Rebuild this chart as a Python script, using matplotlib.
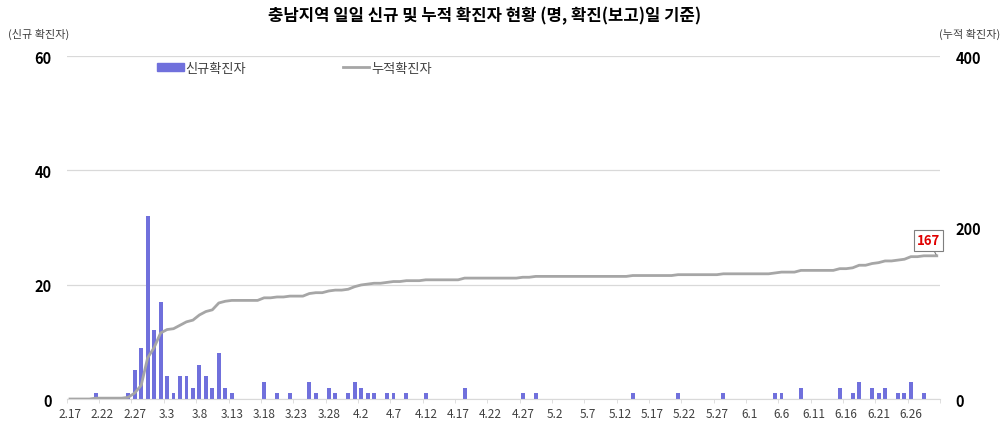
import numpy as np
import pandas as pd
import matplotlib
matplotlib.use('Agg')
from matplotlib import pyplot as plt

plt.rcParams['font.family'] = ['Noto Sans CJK KR', 'DejaVu Sans']

# daily categories 2020-02-17 .. 2020-06-30
dates = pd.date_range('2020-02-17', '2020-06-30', freq='D')
date_labels = ['%d.%d' % (d.month, d.day) for d in dates]

# days with new confirmed cases, everything else is 0
case_days = ['2.21', '2.26', '2.27', '2.28', '2.29', '3.1', '3.2', '3.3', '3.4', '3.5',
             '3.6', '3.7', '3.8', '3.9', '3.10', '3.11', '3.12', '3.13', '3.18', '3.20',
             '3.22', '3.25', '3.26', '3.28', '3.29', '3.31', '4.1', '4.2', '4.3', '4.4',
             '4.6', '4.7', '4.9', '4.12', '4.18', '4.27', '4.29', '5.14', '5.21', '5.28',
             '6.5', '6.6', '6.9', '6.15', '6.17', '6.18', '6.20', '6.21', '6.22', '6.24',
             '6.25', '6.26', '6.28']
case_counts = [1, 1, 5, 9, 32, 12, 17, 4, 1, 4,
               4, 2, 6, 4, 2, 8, 2, 1, 3, 1,
               1, 3, 1, 2, 1, 1, 3, 2, 1, 1,
               1, 1, 1, 1, 2, 1, 1, 1, 1, 1,
               1, 1, 2, 2, 1, 3, 2, 1, 2, 1,
               1, 3, 1]

daily = np.zeros(len(dates))
for d, c in zip(case_days, case_counts):
    daily[date_labels.index(d)] = c
cumulative = np.cumsum(daily)

bar_color = '#7070DC'
line_color = '#A6A6A6'
grid_color = '#D9D9D9'
text_color = '#404040'

fig = plt.figure(figsize=(10.03, 4.27), dpi=100)
ax = fig.add_axes([0.0666, 0.0632, 0.8706, 0.8033])
ax2 = ax.twinx()

x = np.arange(len(dates))
ax.bar(x, daily, width=0.6, color=bar_color, zorder=2)
ax2.plot(x, cumulative, color=line_color, linewidth=2.0, zorder=3)

ax.set_xlim(-0.5, len(dates) - 0.5)
ax.set_ylim(0, 60)
ax2.set_ylim(0, 400)
ax.set_yticks([0, 20, 40, 60])
ax2.set_yticks([0, 200, 400])

ax.yaxis.grid(True, color=grid_color, linewidth=0.9, zorder=0)
ax.set_axisbelow(True)
for a in (ax, ax2):
    for s in ('top', 'left', 'right'):
        a.spines[s].set_visible(False)
    a.spines['bottom'].set_color(grid_color)
ax2.spines['bottom'].set_visible(False)

ax.set_xticks(x[::5])
ax.set_xticklabels(date_labels[::5], fontsize=8.5, color=text_color)
ax.set_xticks(np.arange(-0.5, len(dates), 5), minor=True)
ax.tick_params(axis='x', which='major', length=0, pad=6)
ax.tick_params(axis='x', which='minor', length=3, color=grid_color)
ax.tick_params(axis='y', length=0, pad=11)
ax2.tick_params(axis='y', length=0, pad=11)
for t in ax.get_yticklabels() + ax2.get_yticklabels():
    t.set_fontweight('bold')
    t.set_fontsize(10.5)
    t.set_color('black')

fig.text(0.483, 0.962, '충남지역 일일 신규 및 누적 확진자 현황 (명, 확진(보고)일 기준)',
         ha='center', va='center', fontsize=12, fontweight='bold', color='black')
fig.text(0.008, 0.92, '(신규 확진자)', ha='left', va='center', fontsize=8, color=text_color)
fig.text(0.997, 0.92, '(누적 확진자)', ha='right', va='center', fontsize=8, color=text_color)

# legend
leg = ax.legend(handles=[plt.Rectangle((0, 0), 1, 1, color=bar_color),
                         plt.Line2D([0], [0], color=line_color, linewidth=2.0)],
                labels=['신규확진자', '누적확진자'], ncol=2, frameon=False,
                loc='center left', bbox_to_anchor=(0.09, 0.965),
                handlelength=2.0, handleheight=0.5, handletextpad=0.15,
                columnspacing=7.3, fontsize=9.5)
for t in leg.get_texts():
    t.set_color(text_color)

# data label for last cumulative value
ax2.annotate('%d' % cumulative[-1], xy=(x[-1], cumulative[-1]),
             xytext=(-6, 6), textcoords='offset points',
             ha='center', va='bottom', fontsize=9.5, fontweight='bold', color='#E00000',
             bbox=dict(boxstyle='square,pad=0.25', fc='white', ec='#7F7F7F', lw=0.8),
             arrowprops=dict(arrowstyle='-', color='#7F7F7F', lw=0.8, shrinkA=0, shrinkB=1))

fig.savefig('out.png', dpi=100)
